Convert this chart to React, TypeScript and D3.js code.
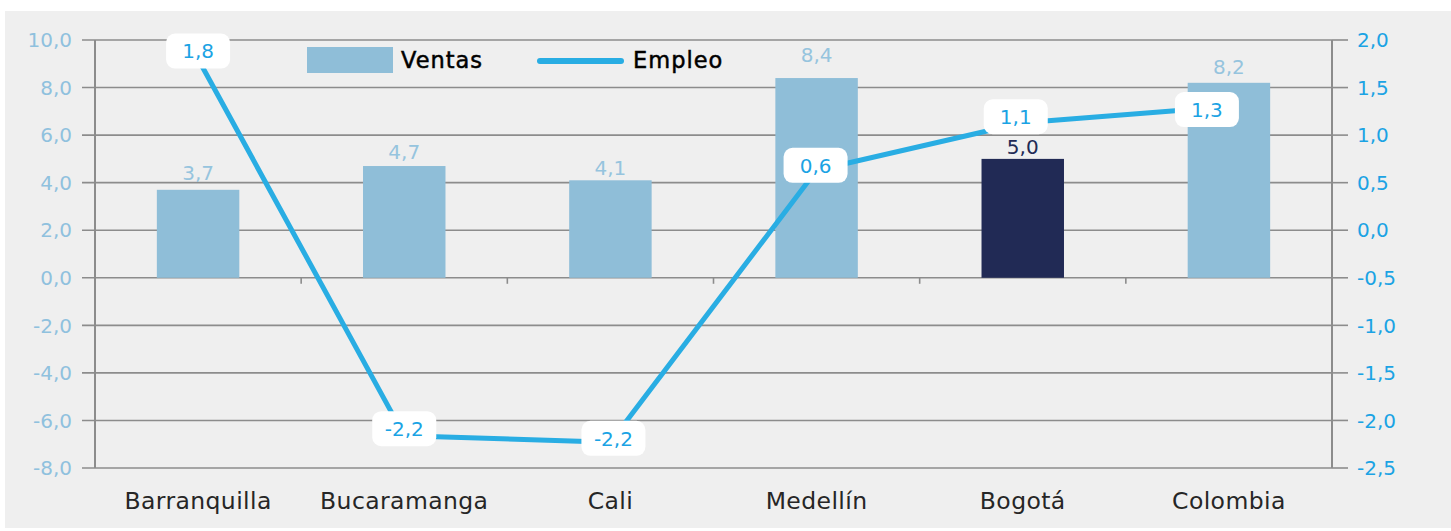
import React from "react";
import * as d3 from "d3";

const categories = ["Barranquilla", "Bucaramanga", "Cali", "Medellín", "Bogotá", "Colombia"];
const ventas = [3.7, 4.7, 4.1, 8.4, 5.0, 8.2];
const empleo = [1.8, -2.16, -2.23, 0.63, 1.13, 1.3];
const leftTicks = [10, 8, 6, 4, 2, 0, -2, -4, -6, -8];
const rightTicks = [2.0, 1.5, 1.0, 0.5, 0.0, -0.5, -1.0, -1.5, -2.0, -2.5];
const highlight = "Bogotá";

// layout nudges for labels (manual placement in the original)
const empleoLabelNudge: [number, number][] = [[0, -8], [0, -7], [3, -4], [-1, -5], [-7, -6], [-22, 3]];
const ventasLabelGap = [10, 7, 5, 16, 5, 9];

const W = 1451, H = 531;
const plot = { left: 95, right: 1332, top: 40, bottom: 468 };
const BAR = "#8fbed8";
const NAVY = "#212a55";
const LINE = "#29ade3";
const GRID = "#8c8c8c";
const FONT = "'DejaVu Sans', sans-serif";
const fmt = (v: number) => d3.format(".1f")(v).replace(".", ",").replace("−", "-");

export default function App() {
  const x = d3.scaleBand<string>().domain(categories).range([plot.left, plot.right]).padding(0);
  const yL = d3.scaleLinear().domain([-8, 10]).range([plot.bottom, plot.top]);
  const yR = d3.scaleLinear().domain([-2.5, 2]).range([plot.bottom, plot.top]);
  const bw = x.bandwidth() * 0.4;
  const cx = (c: string) => (x(c) as number) + x.bandwidth() / 2;
  const linePath = d3.line<number>().x((_, i) => cx(categories[i])).y((d) => yR(d))(empleo) as string;
  const y0 = yL(0);

  return (
    <svg width={W} height={H} style={{ position: "absolute", left: 0, top: 0, fontFamily: FONT }}>
      <rect x={0} y={0} width={W} height={H} fill="#ffffff" />
      <rect x={5} y={11} width={W - 5} height={517} fill="#efefef" />
      {leftTicks.map((t) => (
        <line key={"g" + t} x1={82} x2={plot.right} y1={yL(t)} y2={yL(t)} stroke={GRID} strokeWidth={1.6} />
      ))}
      {rightTicks.map((t) => (
        <line key={"rt" + t} x1={plot.right} x2={1348} y1={yR(t)} y2={yR(t)} stroke={GRID} strokeWidth={1.6} />
      ))}
      <line x1={plot.left} x2={plot.left} y1={plot.top} y2={plot.bottom} stroke={GRID} strokeWidth={2} />
      <line x1={plot.right} x2={plot.right} y1={plot.top} y2={plot.bottom} stroke={GRID} strokeWidth={2} />
      {categories.slice(1).map((c) => (
        <line key={"ct" + c} x1={x(c) as number} x2={x(c) as number} y1={y0} y2={y0 + 6} stroke={GRID} strokeWidth={1.6} />
      ))}
      {leftTicks.map((t) => (
        <text key={"lt" + t} x={72} y={yL(t)} dy="0.36em" textAnchor="end" fontSize={20} fill="#8fc1de">
          {fmt(t)}
        </text>
      ))}
      {rightTicks.map((t) => (
        <text key={"rl" + t} x={1357} y={yR(t)} dy="0.36em" textAnchor="start" fontSize={20} fill="#1ba3e4">
          {fmt(t)}
        </text>
      ))}
      {categories.map((c) => (
        <text key={"cl" + c} x={cx(c)} y={509} textAnchor="middle" fontSize={23.5} fill="#262626" letterSpacing={0.4}>
          {c}
        </text>
      ))}
      {categories.map((c, i) => (
        <rect key={"b" + c} x={cx(c) - bw / 2} width={bw} y={yL(Math.max(0, ventas[i]))}
          height={Math.abs(yL(ventas[i]) - y0)} fill={c === highlight ? NAVY : BAR} />
      ))}
      {categories.map((c, i) => (
        <text key={"bl" + c} x={cx(c)} y={yL(ventas[i]) - ventasLabelGap[i]} textAnchor="middle" fontSize={20}
          fill={c === highlight ? NAVY : "#96c4de"}>
          {fmt(ventas[i])}
        </text>
      ))}
      <path d={linePath} fill="none" stroke={LINE} strokeWidth={5} strokeLinejoin="round" />
      {categories.map((c, i) => {
        const px = cx(c) + empleoLabelNudge[i][0];
        const py = yR(empleo[i]) + empleoLabelNudge[i][1];
        return (
          <g key={"el" + c}>
            <rect x={px - 32} y={py - 17.5} width={64} height={35} rx={9} fill="#ffffff" />
            <text x={px} y={py} dy="0.36em" textAnchor="middle" fontSize={20} fill="#1ba3e4">
              {fmt(empleo[i])}
            </text>
          </g>
        );
      })}
      <rect x={307} y={47} width={86} height={26} fill={BAR} />
      <text x={401} y={68} fontSize={22.5} fill="#000" stroke="#000" strokeWidth={0.5} letterSpacing={1}>Ventas</text>
      <line x1={540} x2={621} y1={61} y2={61} stroke={LINE} strokeWidth={6} strokeLinecap="round" />
      <text x={633} y={68} fontSize={22.5} fill="#000" stroke="#000" strokeWidth={0.5} letterSpacing={1}>Empleo</text>
    </svg>
  );
}
